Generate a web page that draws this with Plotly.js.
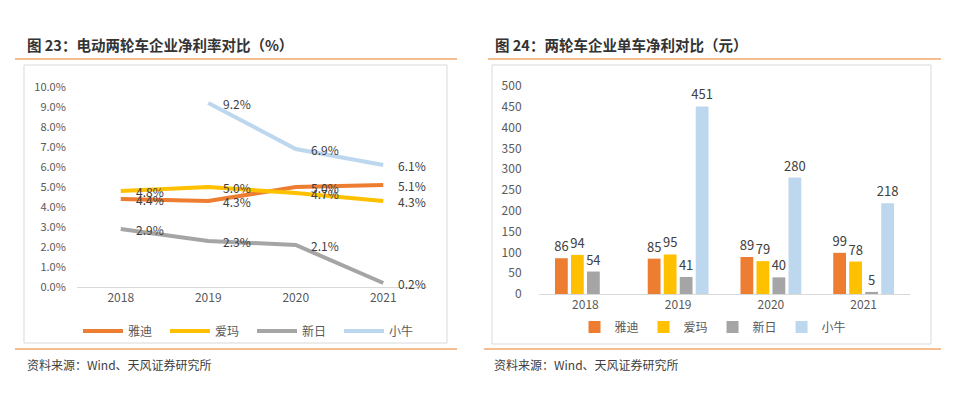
<!DOCTYPE html>
<html>
<head>
<meta charset="utf-8">
<script src="https://cdn.plot.ly/plotly-3.0.1.min.js"></script>
<style>
html,body{margin:0;padding:0;background:#fff;}
#chart{width:964px;height:398px;}
</style>
</head>
<body>
<div id="chart"></div>
<script>
// ---- data ----
const years = ['2018', '2019', '2020', '2021'];
const companies = ['雅迪', '爱玛', '新日', '小牛'];
const colors = ['#ED7D31', '#FFC000', '#A5A5A5', '#BDD7EE'];

// 净利率 (%)
const marginYadea = [4.4, 4.3, 5.0, 5.1];
const marginAima = [4.8, 5.0, 4.7, 4.3];
const marginSunra = [2.9, 2.3, 2.1, 0.2];
const marginNiu = [null, 9.2, 6.9, 6.1];

// 单车净利 (元)
const perYadea = [86, 85, 89, 99];
const perAima = [94, 95, 79, 78];
const perSunra = [54, 41, 40, 5];
const perNiu = [null, 451, 280, 218];

const title1 = '图 23：电动两轮车企业净利率对比（%）';
const title2 = '图 24：两轮车企业单车净利对比（元）';
const sourceText = '资料来源：Wind、天风证券研究所';

// ---- helpers ----
const W = 964, H = 398;
const px = v => v / W;
const py = v => 1 - v / H;
const FONT = '"Noto Sans CJK SC", "Noto Sans", sans-serif';

const marginSeries = [marginYadea, marginAima, marginSunra, marginNiu];
const perSeries = [perYadea, perAima, perSunra, perNiu];

const traces = [];
marginSeries.forEach((s, i) => {
  traces.push({
    type: 'scatter', mode: 'lines', x: years, y: s, name: companies[i],
    line: {color: colors[i], width: 4}, xaxis: 'x', yaxis: 'y',
    legend: 'legend', hoverinfo: 'skip'
  });
});
perSeries.forEach((s, i) => {
  traces.push({
    type: 'bar', x: years, y: s, name: companies[i],
    marker: {color: colors[i]}, xaxis: 'x2', yaxis: 'y2',
    text: s.map(v => v == null ? '' : String(v)), textposition: 'outside',
    constraintext: 'none',
    textfont: {color: '#404040', size: 13, family: FONT},
    cliponaxis: false, legend: 'legend2', hoverinfo: 'skip'
  });
});

const annotations = [];
marginSeries.forEach((s, i) => {
  s.forEach((v, j) => {
    if (v == null) return;
    annotations.push({
      x: j, y: v, xref: 'x', yref: 'y', text: v.toFixed(1) + '%',
      showarrow: false, xanchor: 'left', yanchor: 'middle', xshift: 13,
      font: {size: 12, color: '#404040', family: FONT}
    });
  });
});
annotations.push(
  {xref: 'paper', yref: 'paper', x: px(25), y: py(44), xanchor: 'left', yanchor: 'middle',
   text: '<b>' + title1 + '</b>', showarrow: false, font: {size: 14.5, color: '#333333', family: FONT}},
  {xref: 'paper', yref: 'paper', x: px(493), y: py(44), xanchor: 'left', yanchor: 'middle',
   text: '<b>' + title2 + '</b>', showarrow: false, font: {size: 14.5, color: '#333333', family: FONT}},
  {xref: 'paper', yref: 'paper', x: px(25), y: py(364), xanchor: 'left', yanchor: 'middle',
   text: sourceText, showarrow: false, font: {size: 12, color: '#404040', family: FONT}},
  {xref: 'paper', yref: 'paper', x: px(492), y: py(364), xanchor: 'left', yanchor: 'middle',
   text: sourceText, showarrow: false, font: {size: 12, color: '#404040', family: FONT}}
);

const rule = '#F2A86A';
const box = '#D9D9D9';
const shapes = [
  {type: 'line', xref: 'paper', yref: 'paper', x0: px(15), x1: px(457), y0: py(59), y1: py(59), line: {color: rule, width: 1.5}},
  {type: 'line', xref: 'paper', yref: 'paper', x0: px(488), x1: px(941), y0: py(59), y1: py(59), line: {color: rule, width: 1.5}},
  {type: 'line', xref: 'paper', yref: 'paper', x0: px(15), x1: px(457), y0: py(349), y1: py(349), line: {color: rule, width: 1.5}},
  {type: 'line', xref: 'paper', yref: 'paper', x0: px(484), x1: px(941), y0: py(349), y1: py(349), line: {color: rule, width: 1.5}},
  {type: 'rect', xref: 'paper', yref: 'paper', x0: px(24), x1: px(447), y0: py(65), y1: py(343), line: {color: box, width: 1}, layer: 'below'},
  {type: 'rect', xref: 'paper', yref: 'paper', x0: px(492), x1: px(931), y0: py(65), y1: py(344), line: {color: box, width: 1}, layer: 'below'}
];

const tickFont = {size: 11, color: '#595959', family: FONT};

const layout = {
  width: W, height: H,
  margin: {l: 0, r: 0, t: 0, b: 0},
  paper_bgcolor: '#ffffff', plot_bgcolor: 'rgba(0,0,0,0)',
  font: {family: FONT},
  showlegend: true,
  barmode: 'group', bargap: 0.31, bargroupgap: 0.2,
  xaxis: {domain: [px(77), px(427)], anchor: 'y', type: 'category', range: [-0.5, 3.5],
          showline: true, linecolor: '#D9D9D9', linewidth: 1, ticks: '', showgrid: false,
          tickfont: {size: 12, color: '#595959', family: FONT}, fixedrange: true},
  yaxis: {domain: [py(287), py(87)], anchor: 'x', range: [0, 10], dtick: 1,
          tickformat: '.1f', ticksuffix: '%', showgrid: false, zeroline: false, showline: false,
          ticks: 'outside', ticklen: 8, tickcolor: 'rgba(0,0,0,0)', tickfont: tickFont, fixedrange: true},
  xaxis2: {domain: [px(539), px(910)], anchor: 'y2', type: 'category', range: [-0.5, 3.5],
           showline: true, linecolor: '#D9D9D9', linewidth: 1, ticks: '', showgrid: false,
           tickfont: {size: 12, color: '#595959', family: FONT}, fixedrange: true},
  yaxis2: {domain: [py(294), py(86)], anchor: 'x2', range: [0, 500], dtick: 50,
           showgrid: false, zeroline: false, showline: false,
           ticks: 'outside', ticklen: 14, tickcolor: 'rgba(0,0,0,0)',
           tickfont: {size: 12, color: '#595959', family: FONT}, fixedrange: true},
  legend: {orientation: 'h', x: px(78), xanchor: 'left', y: py(331), yanchor: 'middle',
           entrywidth: 32, itemwidth: 40, font: {size: 12, color: '#595959', family: FONT},
           bgcolor: 'rgba(0,0,0,0)', itemclick: false, itemdoubleclick: false},
  legend2: {orientation: 'h', x: px(713), xanchor: 'center', y: py(327), yanchor: 'middle',
            font: {size: 12, color: '#595959', family: FONT},
            bgcolor: 'rgba(0,0,0,0)', itemclick: false, itemdoubleclick: false},
  annotations: annotations,
  shapes: shapes
};

Plotly.newPlot('chart', traces, layout, {displayModeBar: false, staticPlot: true});
</script>
</body>
</html>
